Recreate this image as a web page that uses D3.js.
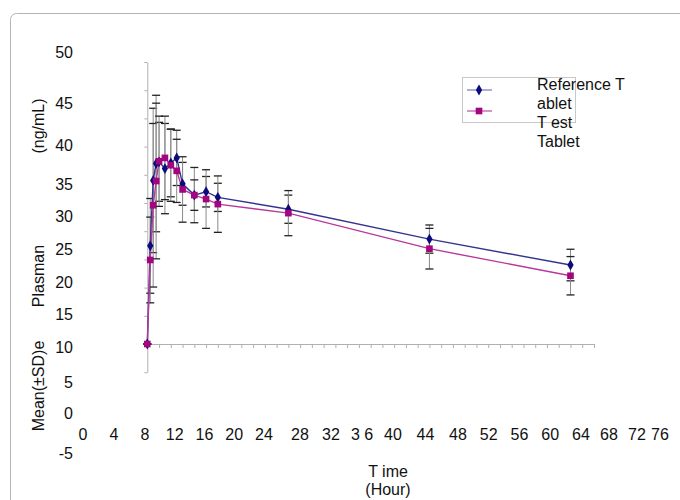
<!DOCTYPE html>
<html><head><meta charset="utf-8">
<script src="https://cdn.jsdelivr.net/npm/d3@7"></script>
<style>
html,body{margin:0;padding:0;background:#fff;}
svg text{font-family:"Liberation Sans",Arial,sans-serif;font-size:16px;fill:#111;}
</style></head>
<body>
<svg id="chart" width="680" height="500"></svg>
<script>
// ---- data ----
const times = [0, 0.5, 1, 1.5, 2, 3, 4, 5, 6, 8, 10, 12, 24, 48, 72];
const refMean = [0, 17.4, 29.0, 32.0, 32.3, 31.1, 32.1, 33.0, 28.4, 26.4, 27.0, 26.0, 23.9, 18.6, 14.0];
const refSD   = [0, 8.4, 12.8, 12.1, 7.0, 8.0, 6.0, 4.9, 3.8, 4.9, 2.7, 2.5, 2.5, 2.5, 2.8];
const testMean = [0, 14.9, 24.6, 28.9, 32.4, 33.0, 31.7, 30.7, 27.4, 26.4, 25.7, 24.8, 23.2, 16.9, 12.1];
const testSD   = [0, 7.6, 14.5, 13.8, 8.0, 7.4, 6.4, 5.6, 5.8, 2.7, 5.2, 5.0, 4.0, 3.6, 3.4];
const seriesNames = ["Reference T\nablet", "T est\nTablet"];
const yTickValues = [50, 45, 40, 35, 30, 25, 20, 15, 10, 5, 0, -5];
const yTickLabels = ["50", "45", "40", "35", "30", "25", "20", "15", "10", "5", "0", "-5"];
const xTickValues = [0, 4, 8, 12, 16, 20, 24, 28, 32, 36, 40, 44, 48, 52, 56, 60, 64, 68, 72, 76];
const xTickLabels = ["0", "4", "8", "12", "16", "20", "24", "28", "32", "3 6", "40", "44", "48", "52", "56", "60", "64", "68", "72", "76"];
const yTitleParts = ["(ng/mL)", "Plasman", "Mean(±SD)e"];
const xTitleParts = ["T ime", "(Hour)"];

const svg = d3.select("#chart");

// outer frame
svg.append("rect").attr("x", 10.5).attr("y", 13.5).attr("width", 700).attr("height", 520)
  .attr("rx", 6).attr("fill", "none").attr("stroke", "#b4b4b4").attr("stroke-width", 1);

// plotting scales (internal plot)
const x = d3.scaleLinear().domain([0, 76]).range([147.3, 594]);
const y = d3.scaleLinear().domain([-5, 50]).range([372.2, 62]);

// internal axes (gray, no labels)
const gx = svg.append("g").attr("transform", `translate(0,${y(0)})`)
  .call(d3.axisBottom(x).tickValues(d3.range(0, 77, 2)).tickSize(4).tickSizeOuter(0).tickFormat(""));
const gy = svg.append("g").attr("transform", `translate(${x(0)},0)`)
  .call(d3.axisLeft(y).tickValues(d3.range(-5, 51, 5)).tickSize(3).tickSizeOuter(0).tickFormat(""));
[gx, gy].forEach(g => {
  g.selectAll("path").attr("stroke", "#b0b0b0");
  g.selectAll("line").attr("stroke", "#b0b0b0");
});

// printed (offset) tick labels
const yLabelPos = d3.scaleLinear().domain([50, 45, 40, 35, 10, 5, 0, -5]).range([52, 103, 145, 184, 347, 382, 413, 453]);
svg.append("g").selectAll("text").data(yTickValues).join("text")
  .attr("x", 73).attr("y", d => yLabelPos(d)).attr("dy", "0.36em").attr("text-anchor", "end")
  .text((d, i) => yTickLabels[i]);

const xLabelPos = d3.scaleLinear().domain([0, 8, 24, 28, 40, 48, 64, 72, 76]).range([83, 145, 264, 300, 393, 458, 581, 637, 660]);
svg.append("g").selectAll("text").data(xTickValues).join("text")
  .attr("x", d => xLabelPos(d)).attr("y", 434).attr("dy", "0.36em").attr("text-anchor", "middle")
  .text((d, i) => xTickLabels[i]);

// axis titles
const yTitleY = [126, 276, 386];
yTitleParts.forEach((t, i) => {
  svg.append("text").attr("transform", `translate(44,${yTitleY[i]}) rotate(-90)`)
    .attr("text-anchor", "middle").text(t);
});
const xTitleY = [471, 489];
xTitleParts.forEach((t, i) => {
  svg.append("text").attr("x", 388).attr("y", xTitleY[i]).attr("dy", "0.36em")
    .attr("text-anchor", "middle").text(t);
});

// series
const series = [
  {mean: refMean, sd: refSD, line: "#34348f", marker: "#0b0b7d", shape: d3.symbolDiamond, size: 34, legendLine: "#8c8cc8"},
  {mean: testMean, sd: testSD, line: "#b8389a", marker: "#a3057f", shape: d3.symbolSquare, size: 44, legendLine: "#c766ad"}
];

// error bars
series.forEach(s => {
  const g = svg.append("g");
  times.forEach((t, i) => {
    const cx = x(t), top = y(s.mean[i] + s.sd[i]), bot = y(s.mean[i] - s.sd[i]);
    g.append("line").attr("x1", cx).attr("x2", cx).attr("y1", top).attr("y2", bot)
      .attr("stroke", "#8a8a8a").attr("stroke-width", 1);
    [top, bot].forEach(yy => g.append("line").attr("x1", cx - 4).attr("x2", cx + 4)
      .attr("y1", yy).attr("y2", yy).attr("stroke", "#222").attr("stroke-width", 1.3));
  });
});

// lines and markers
const lineGen = d3.line().x((d, i) => x(times[i])).y(d => y(d));
series.forEach(s => {
  svg.append("path").datum(s.mean).attr("d", lineGen).attr("fill", "none")
    .attr("stroke", s.line).attr("stroke-width", 1.4);
});
series.forEach(s => {
  svg.append("g").selectAll("path").data(s.mean).join("path")
    .attr("transform", (d, i) => `translate(${x(times[i])},${y(d)})`)
    .attr("d", d3.symbol().type(s.shape).size(s.size)).attr("fill", s.marker);
});

// legend
const lg = svg.append("g");
lg.append("rect").attr("x", 462.5).attr("y", 77.5).attr("width", 113).attr("height", 45)
  .attr("fill", "none").attr("stroke", "#c8c8c8");
const legendY = [90, 111];
series.forEach((s, i) => {
  lg.append("line").attr("x1", 467).attr("x2", 492).attr("y1", legendY[i]).attr("y2", legendY[i])
    .attr("stroke", s.legendLine).attr("stroke-width", 1.4);
  lg.append("path").attr("transform", `translate(479,${legendY[i]})`)
    .attr("d", d3.symbol().type(s.shape).size(s.size)).attr("fill", s.marker);
});
const legendLines = seriesNames.flatMap(n => n.split("\n"));
const legendTextY = [84, 103, 122, 141];
legendLines.forEach((t, i) => {
  lg.append("text").attr("x", 537).attr("y", legendTextY[i]).attr("dy", "0.36em").text(t);
});
</script>
</body></html>
